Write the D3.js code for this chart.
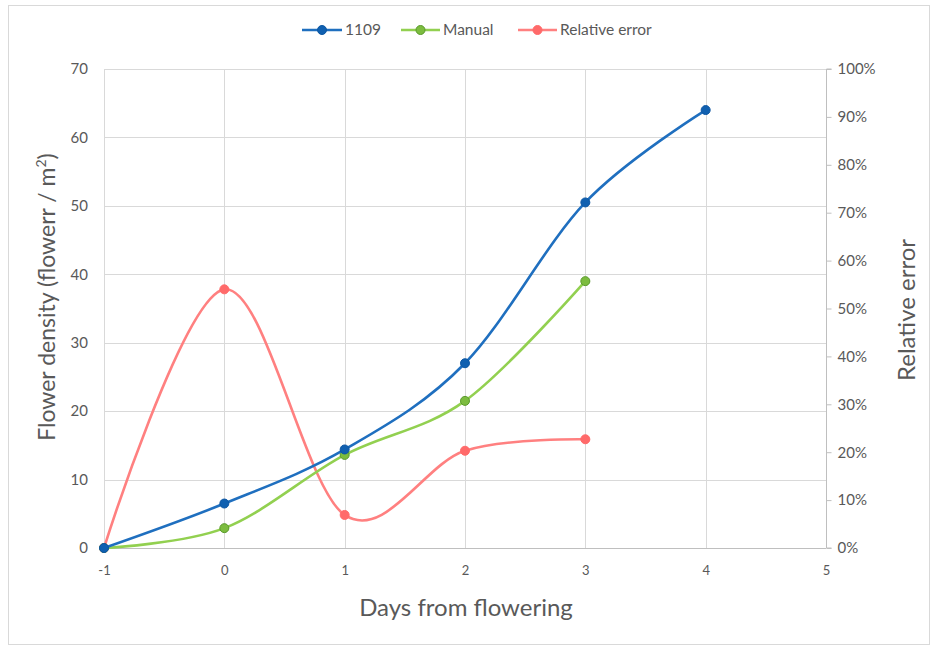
<!DOCTYPE html>
<html><head><meta charset="utf-8">
<script src="https://cdn.jsdelivr.net/npm/d3@7"></script>
<style>
body{margin:0;background:#fff;}
svg{font-family:Lato, "Open Sans", sans-serif;}
</style></head>
<body><svg id="c" width="937" height="649"></svg>
<script>
const days = [-1, 0, 1, 2, 3, 4];
const s1109 = [0, 6.5, 14.4, 27, 50.5, 64];
const manual = [0, 2.9, 13.6, 21.5, 39];
const relErr = [0, 0.54, 0.069, 0.203, 0.227];
const xTicks = [-1, 0, 1, 2, 3, 4, 5];
const yTicks = [0, 10, 20, 30, 40, 50, 60, 70];
const y2Ticks = [0, 0.1, 0.2, 0.3, 0.4, 0.5, 0.6, 0.7, 0.8, 0.9, 1.0];
const seriesNames = ["1109", "Manual", "Relative error"];

const svg = d3.select("#c");
const L = 104, R = 826, T = 69, B = 548;
const x = d3.scaleLinear().domain([-1, 5]).range([L, R]);
const y = d3.scaleLinear().domain([0, 70]).range([B, T]);
const y2 = d3.scaleLinear().domain([0, 1]).range([B, T]);
const gray = "#595959", grid = "#d9d9d9";

svg.append("rect").attr("x", 8.5).attr("y", 5.5).attr("width", 921).attr("height", 639)
  .attr("fill", "#fff").attr("stroke", "#d9d9d9");

// grid
const g = svg.append("g");
g.selectAll(".hg").data(yTicks).join("line")
  .attr("x1", L).attr("x2", R).attr("y1", d => Math.round(y(d)) + 0.5).attr("y2", d => Math.round(y(d)) + 0.5)
  .attr("stroke", grid).attr("stroke-width", 1);
g.selectAll(".vg").data(xTicks).join("line")
  .attr("y1", T).attr("y2", B).attr("x1", d => Math.round(x(d)) + 0.5).attr("x2", d => Math.round(x(d)) + 0.5)
  .attr("stroke", grid).attr("stroke-width", 1);

// left axis labels
const yAxis = d3.axisLeft(y).tickValues(yTicks).tickSize(0).tickPadding(16);
const ya = svg.append("g").attr("transform", `translate(${L},0)`).call(yAxis);
ya.select(".domain").remove();
ya.selectAll("text").attr("fill", gray).style("font-size", "15px").style("font-family", "Lato");

// x axis
const xAxis = d3.axisBottom(x).tickValues(xTicks).tickSize(0).tickPadding(18).tickFormat(d => String(d));
const xa = svg.append("g").attr("transform", `translate(0,${B})`).call(xAxis);
xa.select(".domain").remove();
xa.selectAll("text").attr("fill", gray).style("font-size", "13px").style("font-family", "Lato");
svg.append("line").attr("x1", L).attr("x2", R).attr("y1", B + 0.5).attr("y2", B + 0.5).attr("stroke", "#bfbfbf");

// right axis
const y2Axis = d3.axisRight(y2).tickValues(y2Ticks).tickFormat(d3.format(".0%")).tickSize(5).tickPadding(6);
const ra = svg.append("g").attr("transform", `translate(${R + 0.5},0)`).call(y2Axis);
ra.select(".domain").attr("stroke", "#bfbfbf").attr("d", `M5,${B}H0V${T}H5`);
ra.selectAll(".tick line").attr("stroke", "#bfbfbf");
ra.selectAll("text").attr("fill", gray).style("font-size", "15px").style("font-family", "Lato");

// axis titles
svg.append("text").attr("transform", `translate(55,297) rotate(-90)`)
  .attr("text-anchor", "middle").attr("fill", gray).style("font-size", "23px")
  .html('Flower density (flowerr / m<tspan dy="-9" font-size="14px">2</tspan><tspan dy="9">)</tspan>');
svg.append("text").attr("x", 466).attr("y", 616).attr("text-anchor", "middle")
  .attr("fill", gray).style("font-size", "24px").text("Days from flowering");
svg.append("text").attr("transform", `translate(915,310) rotate(-90)`)
  .attr("text-anchor", "middle").attr("fill", gray).style("font-size", "24px").text("Relative error");

// series
const series = [
  {name: seriesNames[0], vals: s1109, sc: y, color: "#1f6fbf", mfill: "#1060b0", mstroke: "#0d57a3"},
  {name: seriesNames[1], vals: manual, sc: y, color: "#92d050", mfill: "#7cbc3f", mstroke: "#5a9a2c"},
  {name: seriesNames[2], vals: relErr, sc: y2, color: "#ff8080", mfill: "#ff6a6a", mstroke: "#ff6a6a"}
];
const order = [2, 1, 0];
order.forEach(i => {
  const s = series[i];
  const pts = s.vals.map((v, k) => [x(days[k]), s.sc(v)]);
  const line = d3.line().curve(d3.curveCardinal.tension(0));
  svg.append("path").attr("d", line(pts)).attr("fill", "none")
    .attr("stroke", s.color).attr("stroke-width", 2.6).attr("stroke-linecap", "round");
  svg.selectAll(null).data(pts).join("circle")
    .attr("cx", d => d[0]).attr("cy", d => d[1]).attr("r", 4.5)
    .attr("fill", s.mfill).attr("stroke", s.mstroke).attr("stroke-width", 1);
});

// legend
const leg = svg.append("g");
const legX = [302, 401, 518];
const legW = [40, 39, 39];
series.forEach((s, i) => {
  const lx = legX[i], ly = 30;
  leg.append("line").attr("x1", lx).attr("x2", lx + legW[i]).attr("y1", ly).attr("y2", ly)
    .attr("stroke", s.color).attr("stroke-width", 2.6);
  leg.append("circle").attr("cx", lx + legW[i] / 2).attr("cy", ly).attr("r", 4.5)
    .attr("fill", s.mfill).attr("stroke", s.mstroke);
  leg.append("text").attr("x", lx + legW[i] + 3).attr("y", ly + 5).attr("fill", gray)
    .style("font-size", "15.5px").text(s.name);
});
</script></body></html>
